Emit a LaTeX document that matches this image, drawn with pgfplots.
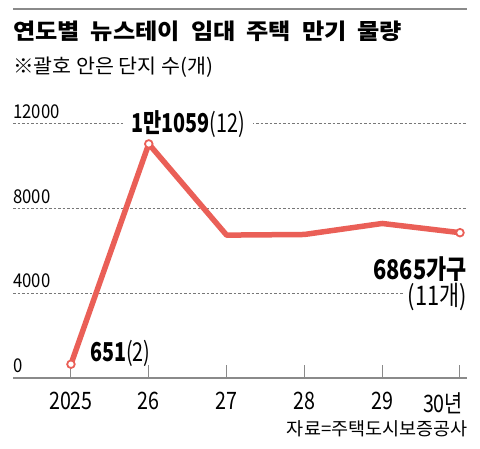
\documentclass[border=0pt]{standalone}
\usepackage{fontspec}
\usepackage{pgfplots}
\pgfplotsset{compat=1.18}
\setmainfont{Noto Sans CJK KR}
\newfontfamily\krT{Noto Sans CJK KR}[FakeStretch=1.1]
\newfontfamily\krS{Noto Sans CJK KR}[FakeStretch=1.03]
\newfontfamily\krA{Noto Sans CJK KR}[FakeStretch=0.88]
\newfontfamily\krB{Noto Sans CJK KR}[FakeStretch=0.82]
\newfontfamily\krC{Noto Sans CJK KR}[FakeStretch=0.76]
\newfontfamily\krD{Noto Sans CJK KR}[FakeStretch=0.81]
\definecolor{linered}{HTML}{EA5F57}
\definecolor{gridgray}{HTML}{777777}
\definecolor{axgray}{HTML}{8A8A8A}
\begin{document}
\begin{tikzpicture}[x=1pt,y=1pt]
\path[use as bounding box] (0,0) rectangle (480,449);
\draw[axgray, line width=1.3pt] (13,440) -- (467,440);
\node[anchor=base west, inner sep=0pt, font=\fontsize{22}{22}\selectfont\krT\bfseries] at (13,409) {\spaceskip=11pt 연도별 뉴스테이 임대 주택 만기 물량};
\node[anchor=base west, inner sep=0pt, font=\fontsize{20}{20}\selectfont\krS] at (13,375) {※괄호 안은 단지 수(개)};
\node[anchor=base east, inner sep=0pt, font=\fontsize{18}{18}\selectfont\krS] at (468,13) {자료=주택도시보증공사};
\begin{axis}[
  at={(13pt,71pt)}, anchor=south west,
  width=454pt, height=254pt, scale only axis,
  xmin=2024.255, xmax=2030.09, ymin=0, ymax=12000,
  clip=false,
  axis x line*=bottom, axis y line*=left,
  x axis line style={-, axgray, line width=1.3pt},
  y axis line style={draw=none},
  xtick={2025,2026,2027,2028,2029},
  xticklabels={2025,26,27,28,29},
  extra x ticks={2030},
  extra x tick labels={30년},
  extra x tick style={xticklabel style={xshift=-17pt}},
  tick align=inside, major tick length=13pt,
  xtick style={axgray, line width=1pt},
  ytick style={draw=none},
  ytick={0,4000,8000,12000},
  ymajorgrids,
  grid style={gridgray, line width=1pt, dash pattern=on 2.5pt off 2pt},
  /pgf/number format/assume math mode=true,
  /pgf/number format/set thousands separator={},
  scaled y ticks=false,
  yticklabel style={anchor=south west, inner sep=0pt, yshift=5pt, font=\fontsize{19}{19}\selectfont\krA, text=black},
  xticklabel style={anchor=north, inner sep=0pt, yshift=-14pt, font=\fontsize{24}{24}\selectfont\krB, text=black},
]
\addplot[linered, line width=5.5pt, line join=round] coordinates {(2025,651)(2026,11059)(2027,6750)(2028,6780)(2029,7300)(2030,6865)};
\addplot[only marks, mark=*, mark size=3.8pt, mark options={fill=white, draw=linered, line width=1.8pt}] coordinates {(2025,651)(2026,11059)(2030,6865)};
\node[anchor=base, fill=white, inner xsep=8pt, inner ysep=2pt, font=\fontsize{26}{26}\selectfont\krC] at (axis cs:2026.504,11576) {\textbf{1만1059}(12)};
\node[anchor=base east, inner sep=0pt, font=\fontsize{27}{27}\selectfont\krD] at (axis cs:2030.09,4659) {\textbf{6865가구}};
\node[anchor=base east, fill=white, inner xsep=4pt, inner ysep=2pt, xshift=4pt, font=\fontsize{27}{27}\selectfont\krD] at (axis cs:2030.09,3435) {(11개)};
\node[anchor=base west, inner sep=0pt, font=\fontsize{26}{26}\selectfont\krC] at (axis cs:2025.244,800) {\textbf{651}(2)};
\end{axis}
\end{tikzpicture}
\end{document}
